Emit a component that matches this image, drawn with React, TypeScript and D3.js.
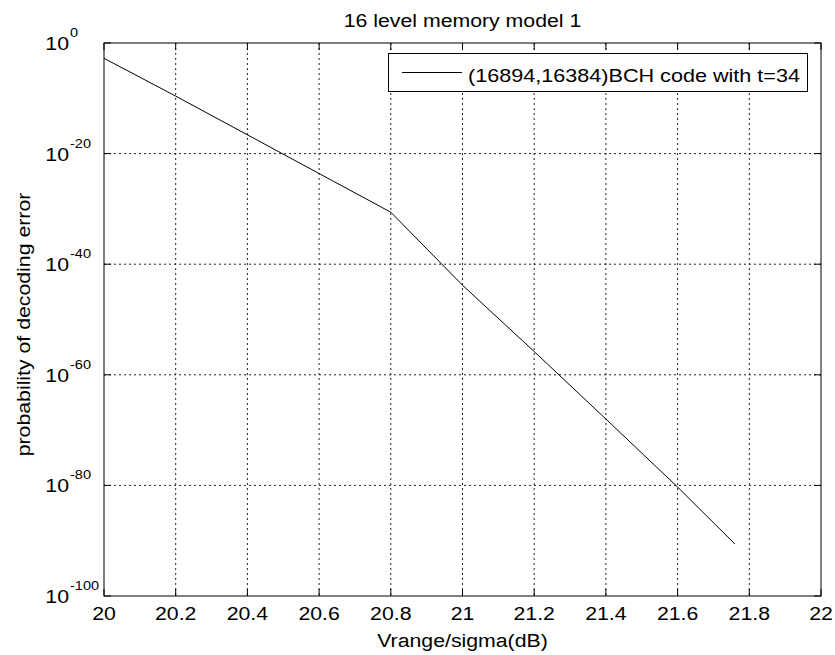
import React from "react";
import * as d3 from "d3";

const xValues = [20, 20.2, 20.4, 20.6, 20.8, 21, 21.2, 21.4, 21.6, 21.76];
const yValues = [1.7e-3, 2.5e-10, 2.5e-17, 2.5e-24, 2.5e-31, 1.6e-44, 1.6e-56, 1e-68, 5e-81, 2.5e-91];
const xTicks = [20, 20.2, 20.4, 20.6, 20.8, 21, 21.2, 21.4, 21.6, 21.8, 22];
const yTickExps = [0, -20, -40, -60, -80, -100];
const title = "16 level memory model 1";
const xLabel = "Vrange/sigma(dB)";
const yLabel = "probability of decoding error";
const legendLabel = "(16894,16384)BCH code with t=34";

const W = 835, H = 655;
const L = 104, R = 821, T = 43, B = 596;
const SX = 1.12;
const FONT = "'Liberation Sans', Arial, sans-serif";

function SText({ x, y, anchor = "start", size = 19, sx = SX, children, rotate = 0 }: any) {
  return (
    <text
      transform={`translate(${x},${y})${rotate ? ` rotate(${rotate})` : ""} scale(${sx},1)`}
      textAnchor={anchor}
      fontSize={size}
      fontFamily={FONT}
      fill="#000"
    >
      {children}
    </text>
  );
}

export default function App() {
  const x = d3.scaleLinear().domain([20, 22]).range([L, R]);
  const y = d3.scaleLog().domain([1, 1e-100]).range([T, B]);
  const pts: [number, number][] = xValues.map((v, i) => [x(v), y(yValues[i])]);
  const line = d3.line<[number, number]>()(pts) || "";
  const tickLen = 7;

  return (
    <svg width={W} height={H} style={{ position: "absolute", left: 0, top: 0, background: "#fff" }}>
      <rect x={0} y={0} width={W} height={H} fill="#fff" />
      {/* grid */}
      {xTicks.slice(1, -1).map((t) => (
        <line key={"gx" + t} x1={x(t)} x2={x(t)} y1={T} y2={B} stroke="#222" strokeWidth={1} strokeDasharray="2,3" />
      ))}
      {yTickExps.slice(1, -1).map((e) => (
        <line key={"gy" + e} x1={L} x2={R} y1={y(Math.pow(10, e))} y2={y(Math.pow(10, e))} stroke="#222" strokeWidth={1} strokeDasharray="2,3" />
      ))}
      {/* ticks */}
      {xTicks.map((t) => (
        <g key={"tx" + t}>
          <line x1={x(t)} x2={x(t)} y1={B} y2={B - tickLen} stroke="#000" />
          <line x1={x(t)} x2={x(t)} y1={T} y2={T + tickLen} stroke="#000" />
        </g>
      ))}
      {yTickExps.map((e) => (
        <g key={"ty" + e}>
          <line x1={L} x2={L + tickLen} y1={y(Math.pow(10, e))} y2={y(Math.pow(10, e))} stroke="#000" />
          <line x1={R} x2={R - tickLen} y1={y(Math.pow(10, e))} y2={y(Math.pow(10, e))} stroke="#000" />
        </g>
      ))}
      {/* data line */}
      <path d={line} fill="none" stroke="#000" strokeWidth={1} />
      {/* box */}
      <rect x={L} y={T} width={R - L} height={B - T} fill="none" stroke="#000" strokeWidth={1} />
      {/* x tick labels */}
      {xTicks.map((t) => (
        <SText key={"lx" + t} x={x(t)} y={620} anchor="middle">
          {String(t)}
        </SText>
      ))}
      {/* y tick labels */}
      {yTickExps.map((e) => {
        const yy = y(Math.pow(10, e));
        return (
          <g key={"ly" + e}>
            <SText x={69} y={yy + 7} anchor="end">10</SText>
            <SText x={70} y={yy - 6} anchor="start" size={13}>{String(e)}</SText>
          </g>
        );
      })}
      {/* legend */}
      <rect x={388.5} y={53.5} width={419} height={38} fill="#fff" stroke="#000" strokeWidth={1} />
      <line x1={402} x2={462} y1={72.5} y2={72.5} stroke="#000" />
      <text x={468} y={82} fontSize={19} fontFamily={FONT} fill="#000" textLength={332} lengthAdjust="spacingAndGlyphs">
        {legendLabel}
      </text>
      {/* titles */}
      <SText x={(L + R) / 2} y={27} anchor="middle">{title}</SText>
      <SText x={(L + R) / 2} y={647} anchor="middle">{xLabel}</SText>
      <SText x={30} y={(T + B) / 2 + 5} anchor="middle" rotate={-90}>{yLabel}</SText>
    </svg>
  );
}
